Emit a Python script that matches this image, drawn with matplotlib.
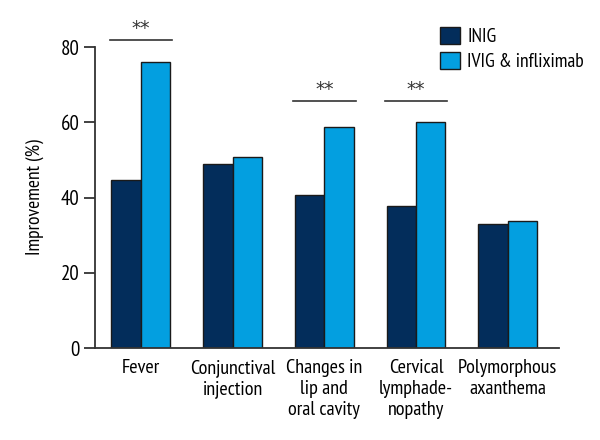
import numpy as np
import matplotlib.pyplot as plt
from matplotlib.patches import Patch

# data
categories = ['Fever', 'Conjunctival\ninjection', 'Changes in\nlip and\noral cavity',
              'Cervical\nlymphade-\nnopathy', 'Polymorphous\naxanthema']
inig = [44.7, 48.8, 40.7, 37.8, 33.0]
ivig_inf = [76.0, 50.9, 58.7, 60.1, 33.9]
series_names = ['INIG', 'IVIG & infliximab']
sig_groups = [0, 2, 3]
sig_level = [81.8, 65.7, 65.7]

plt.rcParams['font.family'] = ['PT Sans Narrow', 'DejaVu Sans']

fig = plt.figure(figsize=(6, 4.4), dpi=100)
ax = fig.add_axes([0.158, 0.209, 0.774, 0.684])

x = np.arange(len(categories))
w = 0.32
dark = '#032d5b'
light = '#039fe0'
ax.bar(x - w/2, inig, w, color=dark, edgecolor='#1a1a1a', linewidth=1)
ax.bar(x + w/2, ivig_inf, w, color=light, edgecolor='#1a1a1a', linewidth=1)

for g, lvl in zip(sig_groups, sig_level):
    ax.plot([g - 0.34, g + 0.34], [lvl, lvl], color='#333333', lw=1.2, clip_on=False)
    ax.text(g, lvl + 1.6, '**', ha='center', va='baseline', fontsize=13.5,
            family='DejaVu Sans', color='#333333')

ax.set_xlim(-0.502, 4.56)
ax.set_ylim(0, 80)
ax.set_yticks([0, 20, 40, 60, 80])
ax.set_xticks(x)
ax.set_xticklabels(categories, fontsize=14.5, linespacing=1.2)
ax.tick_params(axis='x', length=0, pad=8)
ax.tick_params(axis='y', length=8, width=1.3, labelsize=15, pad=3, color='#333333')
ax.set_ylabel('Improvement (%)', fontsize=14, labelpad=12)
for s in ['top', 'right']:
    ax.spines[s].set_visible(False)
for s in ['left', 'bottom']:
    ax.spines[s].set_linewidth(1.3)
    ax.spines[s].set_color('#333333')

handles = [Patch(facecolor=dark, edgecolor='#1a1a1a'), Patch(facecolor=light, edgecolor='#1a1a1a')]
ax.legend(handles, series_names, loc='upper left', bbox_to_anchor=(0.727, 1.093),
          frameon=False, fontsize=14, handlelength=1.0, handleheight=1.0,
          handletextpad=0.4, labelspacing=0.3, borderaxespad=0)

fig.savefig('out.png', dpi=100)
